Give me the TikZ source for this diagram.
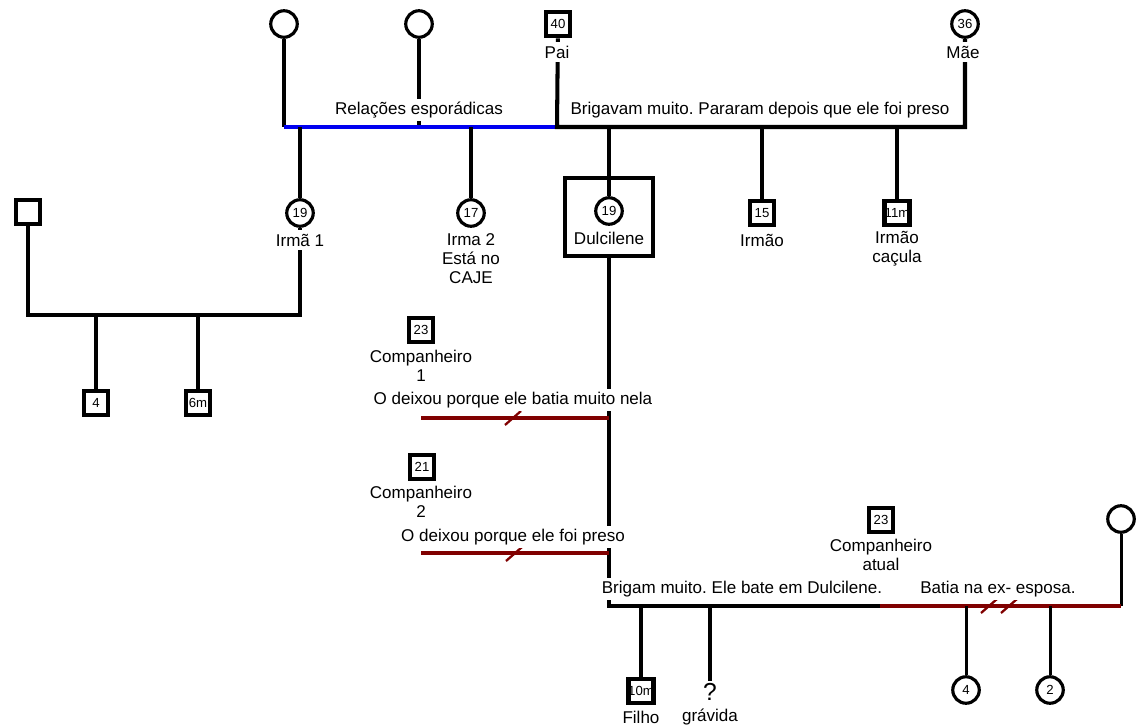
\documentclass[tikz,border=0pt]{standalone}
\usepackage{fontspec}
\setmainfont{Liberation Sans}
\usetikzlibrary{positioning}
\definecolor{tieblue}{HTML}{0000F0}
\definecolor{tiered}{HTML}{800000}
\frenchspacing

\begin{document}
\begin{tikzpicture}[x=0.02cm, y=-0.02cm,
    female/.style={circle, draw, line width=1.8pt, minimum size=0.53cm,
      inner sep=0pt, font=\fontsize{7.5}{8}\selectfont},
    male/.style={rectangle, draw, line width=2.8pt, minimum size=0.48cm,
      inner sep=0pt, font=\fontsize{7.5}{8}\selectfont},
    personlab/.style={font=\fontsize{9.7}{10.8}\selectfont, align=center,
      fill=white, inner sep=2pt},
    tienote/.style={personlab, inner sep=1.5pt},
    tie/.style={line width=2.3pt},
    kid/.style={line width=1.7pt},
    split/.style={line width=1.3pt, tiered}]
        \useasboundingbox (0,0) rectangle (1139,727);

        \node[female] (avo1) at (284,24) {};
        \node[female] (avo2) at (419,24) {};
        \node[male] (pai) at (558,24) {40};
        \node[female] (mae) at (965,24) {36};

        \node[female] (irma1) at (300,213) {19};
        \node[female] (irma2) at (471,213) {17};
        \node[female] (dul) at (609,211) {19};
        \node[draw, line width=2.3pt, minimum width=1.76cm,
          minimum height=1.56cm] (dulbox) at (609,217) {};
        \node[male] (irmao) at (762,213) {15};
        \node[male] (cacula) at (897,213) {11m};

        \node[male] (ex1) at (28,212) {};
        \node[male] (s4) at (96,403) {4};
        \node[male] (s6m) at (198,403) {6m};

        \node[male] (comp1) at (421,330) {23};
        \node[male] (comp2) at (422,467) {21};
        \node[male] (comp3) at (881,520) {23};
        \node[female] (exw) at (1121,519) {};

        \node[male] (filho) at (641,691) {10m};
        \node[font=\fontsize{14}{15}\selectfont, inner sep=1pt]
          (preg) at (710,692) {?};
        \node[female] (d4) at (966,690) {4};
        \node[female] (d2) at (1050,690) {2};

        \coordinate (j1) at (284,127);
        \coordinate (j2) at (557,127);
        \coordinate (j3) at (965,127);
        \coordinate (l1) at (300,315);
        \coordinate (r1) at (609,418);
        \coordinate (r2) at (609,553);
        \coordinate (j4) at (609,606);
        \coordinate (j5) at (880,606);
        \coordinate (j6) at (1121,606);

        % pais e filhos
        \draw[tie] (avo1) -- (j1);
        \draw[tie] (avo2) -- (avo2 |- j1);
        \draw[tie, tieblue] (j1) -- (j2);
        \draw[tie] (pai) -- (j2) -- (j3) -- (mae);
        \draw[tie] (irma1 |- j1) -- (irma1);
        \draw[tie] (irma2 |- j1) -- (irma2);
        \draw[tie] (dul |- j2) -- (dul);
        \draw[tie] (irmao |- j2) -- (irmao);
        \draw[tie] (cacula |- j2) -- (cacula);

        \draw[tie] (irma1) -- (l1) -| (ex1);
        \draw[tie] (s4 |- l1) -- (s4);
        \draw[tie] (s6m |- l1) -- (s6m);

        % companheiros
        \draw[tie] (dulbox) -- (j4) -- (j5);
        \draw[tie, tiered] (comp1 |- r1) -- (r1);
        \draw[split] (505,425) -- (521,411);
        \draw[tie, tiered] (comp1 |- r2) -- (r2);
        \draw[split] (506,561) -- (522,547);
        \draw[kid] (exw) -- (j6);
        \draw[tie, tiered] (j5) -- (j6);
        \draw[split] (981,613) -- (997,599);
        \draw[split] (1001,613) -- (1017,599);

        \draw[tie] (filho |- j4) -- (filho);
        \draw[tie] (preg |- j4) -- (preg);
        \draw[kid] (d4 |- j5) -- (d4);
        \draw[kid] (d2 |- j5) -- (d2);

        \node[personlab] (pailab) at (557,52) {Pai};
        \node[personlab] (maelab) at (963,52) {Mãe};
        \node[personlab] (irma1lab) at (300,240) {Irmã 1};
        \node[personlab] (irma2lab) at (471,259) {Irma 2\\Está no\\CAJE};
        \node[personlab, fill=none] (dullab) at (609,238) {Dulcilene};
        \node[personlab] (irmaolab) at (762,240) {Irmão};
        \node[personlab] (caculalab) at (897,249) {Irmão\\caçula};
        \node[personlab] (comp1lab) at (421,366) {Companheiro\\1};
        \node[personlab] (comp2lab) at (421,502) {Companheiro\\2};
        \node[personlab] (comp3lab) at (881,555) {Companheiro\\atual};
        \node[personlab] (filholab) at (641,717) {Filho};
        \node[personlab] (preglab) at (710,717) {grávida};

        \node[tienote] (esporadicas) at (419,110) {Relações esporádicas};
        \node[tienote] (brigavam) at (760,110)
          {Brigavam muito. Pararam depois que ele foi preso};
        \node[tienote] (batia) at (513,400) {O deixou porque ele batia muito nela};
        \node[tienote] (preso) at (513,537) {O deixou porque ele foi preso};
        \node[tienote] (brigam) at (742,589) {Brigam muito. Ele bate em Dulcilene.};
        \node[tienote] (exesposa) at (998,589) {Batia na ex- esposa.};

      \end{tikzpicture}
\end{document}
